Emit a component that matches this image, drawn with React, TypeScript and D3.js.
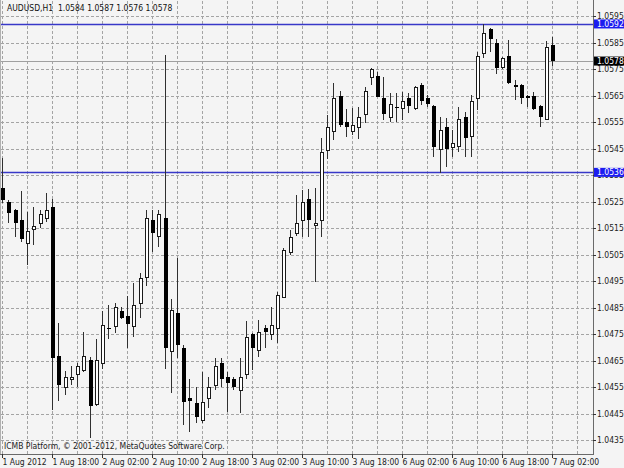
import * as d3 from "d3";

// AUDUSD H1 bars, 1 Aug 2012 10:00 .. 7 Aug 2012 02:00
const opens = [
  1.05301, 1.05248, 1.05218, 1.0518, 1.05093, 1.05148, 1.05169, 1.05188, 1.05229, 1.04667,
  1.0455, 1.0458, 1.04599, 1.04614, 1.04652, 1.04486, 1.0464, 1.04769, 1.0478, 1.04837,
  1.04818, 1.0478, 1.04867, 1.04965, 1.0518, 1.0512, 1.05188, 1.04686, 1.04829, 1.04697,
  1.04508, 1.0449, 1.04425, 1.04508, 1.04557, 1.0464, 1.04588, 1.0458, 1.04539, 1.04599,
  1.0475, 1.0469, 1.04771, 1.0475, 1.04771, 1.0489, 1.05061, 1.05131, 1.0518, 1.05259,
  1.05161, 1.0518, 1.05444, 1.05516, 1.05648, 1.0555, 1.05516, 1.05531, 1.0558, 1.0572,
  1.05724, 1.0564, 1.05569, 1.05608, 1.05603, 1.0564, 1.05603, 1.0569, 1.0564, 1.0561,
  1.05448, 1.05531, 1.05456, 1.05459, 1.05569, 1.05497, 1.0564, 1.0581, 1.05901, 1.05848,
  1.05758, 1.05799, 1.0569, 1.0569, 1.05648, 1.05648, 1.0561, 1.05561, 1.0584,
];
const highs = [
  1.05414, 1.05256, 1.05222, 1.0529, 1.0521, 1.05229, 1.05218, 1.05282, 1.05259, 1.04791,
  1.0461, 1.04629, 1.0464, 1.04757, 1.04663, 1.04731, 1.04838, 1.04859, 1.04867, 1.04852,
  1.04893, 1.04942, 1.0498, 1.05218, 1.05218, 1.05218, 1.05803, 1.04882, 1.05037, 1.04708,
  1.0458, 1.0455, 1.04607, 1.04588, 1.04659, 1.04659, 1.04607, 1.04588, 1.04659, 1.04799,
  1.04754, 1.04803, 1.04783, 1.04852, 1.04908, 1.05074, 1.05142, 1.05274, 1.05293, 1.05297,
  1.05301, 1.0549, 1.05576, 1.05697, 1.05667, 1.05599, 1.05603, 1.05607, 1.05682, 1.05754,
  1.05739, 1.0572, 1.05659, 1.05659, 1.05663, 1.05659, 1.05686, 1.05697, 1.05652, 1.05614,
  1.05569, 1.05565, 1.0552, 1.05607, 1.05588, 1.05652, 1.05814, 1.05921, 1.05905, 1.05863,
  1.05795, 1.05859, 1.05709, 1.05692, 1.05652, 1.05663, 1.05614, 1.05856, 1.0587,
];
const lows = [
  1.05244, 1.05169, 1.05116, 1.05097, 1.0501, 1.05086, 1.0515, 1.05173, 1.04463, 1.04497,
  1.0452, 1.04557, 1.0455, 1.04607, 1.04359, 1.04478, 1.04618, 1.04731, 1.04754, 1.04807,
  1.04697, 1.04739, 1.0481, 1.04933, 1.05059, 1.05078, 1.04618, 1.04528, 1.04659, 1.04406,
  1.0438, 1.04414, 1.04414, 1.04471, 1.04539, 1.0455, 1.04456, 1.04539, 1.04452, 1.0458,
  1.04614, 1.04663, 1.04697, 1.04727, 1.04716, 1.04886, 1.05048, 1.0512, 1.05116, 1.05116,
  1.04946, 1.05116, 1.0541, 1.05482, 1.05531, 1.05493, 1.05501, 1.05486, 1.05546, 1.0569,
  1.05644, 1.05557, 1.0555, 1.0555, 1.05557, 1.05584, 1.05595, 1.05614, 1.05607, 1.05418,
  1.05357, 1.0538, 1.05418, 1.05437, 1.05418, 1.05418, 1.05595, 1.05792, 1.05814, 1.05731,
  1.0575, 1.05695, 1.05633, 1.05618, 1.05607, 1.05595, 1.05531, 1.05557, 1.0576,
];
const closes = [
  1.05256, 1.05207, 1.05169, 1.05108, 1.05139, 1.05157, 1.05203, 1.05218, 1.04659, 1.04557,
  1.04588, 1.04589, 1.04629, 1.04667, 1.04478, 1.04652, 1.04783, 1.04771, 1.04852, 1.0481,
  1.04788, 1.04859, 1.04961, 1.05188, 1.05131, 1.05203, 1.04697, 1.0484, 1.04708, 1.04493,
  1.04497, 1.04437, 1.04493, 1.0455, 1.04629, 1.0458, 1.04565, 1.0455, 1.04588, 1.04739,
  1.04697, 1.04757, 1.04757, 1.04783, 1.04897, 1.05067, 1.05117, 1.05169, 1.05248, 1.0518,
  1.05169, 1.05437, 1.05531, 1.0564, 1.05539, 1.05531, 1.05539, 1.05569, 1.05667, 1.0575,
  1.05644, 1.0558, 1.05618, 1.05607, 1.05629, 1.0561, 1.05682, 1.05629, 1.05618, 1.05456,
  1.0552, 1.05448, 1.05471, 1.05561, 1.0549, 1.05629, 1.05799, 1.05886, 1.05863, 1.05754,
  1.05792, 1.05697, 1.05682, 1.0564, 1.0564, 1.05599, 1.05569, 1.05833, 1.0578,
];

const timeLabelBars = [0, 8, 16, 24, 32, 40, 48, 56, 64, 72, 80, 88];
const timeLabels = [
  "1 Aug 2012", "1 Aug 18:00", "2 Aug 02:00", "2 Aug 10:00", "2 Aug 18:00", "3 Aug 02:00",
  "3 Aug 10:00", "3 Aug 18:00", "6 Aug 02:00", "6 Aug 10:00", "6 Aug 18:00", "7 Aug 02:00",
];
const priceTicks = [
  1.0435, 1.0445, 1.0455, 1.0465, 1.0475, 1.0485, 1.0495, 1.0505, 1.0515, 1.0525,
  1.0535, 1.0545, 1.0555, 1.0565, 1.0575, 1.0585, 1.0595,
];
const levelLines = [1.0592, 1.0536];
const bidPrice = 1.0578;

const W = 624;
const H = 468;
const plotRight = 593;
const plotBottom = 454;
const font = "Tahoma, 'DejaVu Sans Condensed', 'Liberation Sans', sans-serif";
const bg = "#f4f4f4";

export default function App() {
  const x = d3.scaleLinear().domain([0, 88]).range([2, 552]);
  const y = d3.scaleLinear().domain([1.0435, 1.0595]).range([440, 16]);
  const px = (v: number) => Math.round(v) + 0.5;
  const gridBars = d3.range(0, 93, 4);
  const fmt = d3.format(".4f");
  const last = opens.length - 1;

  return (
    <svg
      width={W}
      height={H}
      style={{ position: "absolute", left: 0, top: 0, background: bg }}
      fontFamily={font}
      fontSize={8.5}
    >
      <rect x={0} y={0} width={W} height={H} fill={bg} />

      {/* grid */}
      <g stroke="#a4a4a4" strokeDasharray="3,2" shapeRendering="crispEdges">
        {priceTicks.map((p) => (
          <line key={"h" + p} x1={1} x2={plotRight} y1={px(y(p))} y2={px(y(p))} />
        ))}
        {gridBars.map((b) => (
          <line key={"v" + b} x1={px(x(b))} x2={px(x(b))} y1={1} y2={plotBottom} />
        ))}
      </g>

      {/* level lines */}
      {levelLines.map((p) => (
        <line key={"l" + p} x1={1} x2={plotRight} y1={px(y(p))} y2={px(y(p))}
          stroke="#3838c8" strokeWidth={1.3} />
      ))}
      <line x1={1} x2={plotRight} y1={px(y(bidPrice))} y2={px(y(bidPrice))}
        stroke="#a0a0a0" strokeWidth={1} shapeRendering="crispEdges" />

      {/* candles */}
      <g shapeRendering="crispEdges">
        {opens.map((o, i) => {
          const c = closes[i];
          const cx = px(x(i));
          const top = y(Math.max(o, c));
          const bot = y(Math.min(o, c));
          const bull = c >= o;
          return (
            <g key={i}>
              <line x1={cx} x2={cx} y1={y(highs[i])} y2={y(lows[i])} stroke="#303030" />
              {bot - top < 1.2 ? (
                <line x1={cx - 2} x2={cx + 2} y1={px(top)} y2={px(top)} stroke="#000" />
              ) : bull ? (
                <rect x={cx - 1.5} y={Math.round(top) + 0.5} width={3}
                  height={Math.max(1, Math.round(bot) - Math.round(top))}
                  fill="#fff" stroke="#1a1a1a" />
              ) : (
                <rect x={cx - 2} y={top} width={4} height={bot - top} fill="#000" />
              )}
            </g>
          );
        })}
      </g>

      {/* frame */}
      <g stroke="#6a6a6a" shapeRendering="crispEdges">
        <line x1={plotRight + 0.5} x2={plotRight + 0.5} y1={0} y2={plotBottom + 1} />
        <line x1={0} x2={plotRight + 1} y1={plotBottom + 0.5} y2={plotBottom + 0.5} />
        <line x1={0.5} x2={0.5} y1={0} y2={plotBottom} stroke="#b0b0b0" />
      </g>

      {/* price axis */}
      {priceTicks.map((p) => (
        <g key={"t" + p}>
          <line x1={plotRight} x2={plotRight + 3} y1={px(y(p))} y2={px(y(p))}
            stroke="#333" shapeRendering="crispEdges" />
          <text x={597} y={y(p) + 3} fill="#222">{fmt(p)}</text>
        </g>
      ))}
      {levelLines.map((p) => (
        <g key={"b" + p}>
          <rect x={594} y={y(p) - 4.5} width={30} height={9} fill="#1c1cf0" />
          <text x={597} y={y(p) + 3} fill="#fff">{fmt(p)}</text>
        </g>
      ))}
      <rect x={594} y={y(bidPrice) - 4.5} width={30} height={9} fill="#000" />
      <text x={597} y={y(bidPrice) + 3} fill="#fff">{fmt(bidPrice)}</text>

      {/* time axis */}
      {timeLabelBars.map((b, k) => (
        <g key={"x" + b}>
          <line x1={px(x(b))} x2={px(x(b))} y1={plotBottom} y2={plotBottom + 4}
            stroke="#333" shapeRendering="crispEdges" />
          <text x={x(b) + 0.5} y={465} fill="#222">{timeLabels[k]}</text>
        </g>
      ))}

      {/* captions */}
      <text x={7} y={11} fill="#111" style={{ whiteSpace: "pre" }}>
        {"AUDUSD,H1  " + [opens[last], highs[last], lows[last], closes[last]].map(fmt).join(" ")}
      </text>
      <text x={4} y={449} fill="#222">ICMB Platform, © 2001-2012, MetaQuotes Software Corp.</text>
    </svg>
  );
}
